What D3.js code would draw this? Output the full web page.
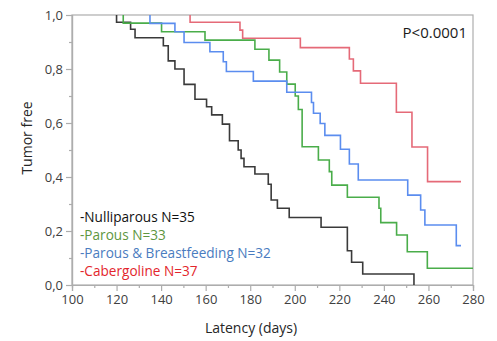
<!DOCTYPE html>
<html>
<head>
<meta charset="utf-8">
<script src="https://cdn.jsdelivr.net/npm/d3@7"></script>
<style>
  body { margin: 0; background: #fff; }
  text { font-family: "Open Sans", "Noto Sans", sans-serif; }
</style>
</head>
<body>
<div id="wrapper"></div>
<script>
// Kaplan-Meier steps: day of each drop and the level after it
const nulliDays = [120, 126.3, 128.3, 141, 143.2, 146.2, 150.3, 155.2, 160.4, 162.7, 167.5, 170.7, 174.6, 175.9, 177.2, 182.1, 188.1, 189.4, 192.2, 197.5, 211.8, 223.6, 225.5, 230.5, 253.5]
const nulliSurv = [0.973, 0.947, 0.916, 0.886, 0.830, 0.800, 0.743, 0.688, 0.660, 0.630, 0.596, 0.534, 0.500, 0.469, 0.438, 0.411, 0.373, 0.315, 0.284, 0.250, 0.214, 0.127, 0.084, 0.041, 0]
const nulliEnd = 253.5

const parousDays = [123, 140.2, 159.7, 182.1, 188.4, 193.2, 196.4, 200.2, 201.6, 203.3, 210.6, 215.5, 216.6, 223.6, 237.8, 238.6, 245.7, 250.5, 259.5]
const parousSurv = [0.970, 0.938, 0.907, 0.873, 0.833, 0.789, 0.744, 0.700, 0.650, 0.512, 0.463, 0.420, 0.370, 0.325, 0.284, 0.231, 0.185, 0.123, 0.062]
const parousEnd = 280

const breastDays = [135, 146.2, 150.3, 161.9, 167.9, 169.3, 181.4, 196.4, 207.5, 208.4, 211.4, 213.5, 220.5, 224.5, 228.5, 250.7, 256.5, 258.4, 272.5]
const breastSurv = [0.969, 0.938, 0.898, 0.864, 0.827, 0.791, 0.755, 0.714, 0.676, 0.636, 0.598, 0.554, 0.503, 0.448, 0.389, 0.333, 0.278, 0.222, 0.146]
const breastEnd = 274.6

const caberDays = [153, 175.4, 176.6, 202.5, 224.5, 226.3, 229.5, 245.6, 252.6, 259.6]
const caberSurv = [0.973, 0.944, 0.914, 0.879, 0.837, 0.793, 0.747, 0.640, 0.511, 0.383]
const caberEnd = 274.6

const groupLabels = ["-Nulliparous N=35", "-Parous N=33", "-Parous & Breastfeeding N=32", "-Cabergoline N=37"]
const xTicks = [100, 120, 140, 160, 180, 200, 220, 240, 260, 280]
const yTicks = [0, 0.2, 0.4, 0.6, 0.8, 1.0]

const groups = [
  { days: nulliDays, surv: nulliSurv, end: nulliEnd, line: "#3a3a3a", text: "#111111" },
  { days: parousDays, surv: parousSurv, end: parousEnd, line: "#4aad4a", text: "#5e9640" },
  { days: breastDays, surv: breastSurv, end: breastEnd, line: "#5b8def", text: "#4a7cc0" },
  { days: caberDays, surv: caberSurv, end: caberEnd, line: "#e56a78", text: "#e3262c" },
]

let dimensions = {
  width: 497,
  height: 341,
  margin: { top: 15, right: 24, bottom: 56, left: 72 },
}
dimensions.boundedWidth = dimensions.width - dimensions.margin.left - dimensions.margin.right
dimensions.boundedHeight = dimensions.height - dimensions.margin.top - dimensions.margin.bottom

const svg = d3.select("#wrapper")
  .append("svg")
    .attr("width", dimensions.width)
    .attr("height", dimensions.height)

const bounds = svg.append("g")
  .attr("transform", `translate(${dimensions.margin.left},${dimensions.margin.top})`)

const xScale = d3.scaleLinear()
  .domain([100, 280])
  .range([0, dimensions.boundedWidth])

const yScale = d3.scaleLinear()
  .domain([0, 1])
  .range([dimensions.boundedHeight, 0])

// frame
bounds.append("rect")
  .attr("x", 0)
  .attr("y", 0)
  .attr("width", dimensions.boundedWidth)
  .attr("height", dimensions.boundedHeight)
  .attr("fill", "none")
  .attr("stroke", "#adadad")
  .attr("stroke-width", 1.2)

// minor ticks first, then major axes on top
const xMinor = d3.axisBottom(xScale).tickValues(d3.range(110, 280, 20)).tickSize(3).tickFormat("")
const yMinor = d3.axisLeft(yScale).tickValues([0.1, 0.3, 0.5, 0.7, 0.9]).tickSize(3).tickFormat("")

bounds.append("g")
  .attr("transform", `translate(0,${dimensions.boundedHeight})`)
  .call(xMinor)
bounds.append("g").call(yMinor)

const xAxis = bounds.append("g")
  .attr("transform", `translate(0,${dimensions.boundedHeight})`)
  .call(d3.axisBottom(xScale).tickValues(xTicks).tickSize(6).tickPadding(4))

const yAxis = bounds.append("g")
  .call(d3.axisLeft(yScale).tickValues(yTicks).tickSize(6).tickPadding(3)
    .tickFormat(d => d3.format(".1f")(d).replace(".", ",")))

bounds.selectAll(".domain, .tick line")
  .attr("stroke", "#adadad")
  .attr("stroke-width", 1.2)
bounds.selectAll(".tick text")
  .attr("fill", "#404040")
  .style("font-size", "13px")
  .style("font-family", "'Open Sans', sans-serif")

// survival curves
const lineGenerator = d3.line()
  .x(d => xScale(d[0]))
  .y(d => yScale(d[1]))
  .curve(d3.curveStepAfter)

groups.forEach(g => {
  let pts = [[g.days[0], 1]]
  g.days.forEach((t, i) => pts.push([t, g.surv[i]]))
  pts.push([g.end, g.surv[g.surv.length - 1]])
  bounds.append("path")
    .attr("d", lineGenerator(pts))
    .attr("fill", "none")
    .attr("stroke", g.line)
    .attr("stroke-width", 1.6)
})

// legend text
groupLabels.forEach((label, i) => {
  svg.append("text")
    .attr("x", 80)
    .attr("y", 222 + i * 18)
    .attr("fill", groups[i].text)
    .style("font-size", "13.6px")
    .text(label)
})

svg.append("text")
  .attr("x", 467)
  .attr("y", 37.5)
  .attr("text-anchor", "end")
  .attr("fill", "#1a1a1a")
  .style("font-size", "15px")
  .text("P<0.0001")

svg.append("text")
  .attr("x", 251)
  .attr("y", 333)
  .attr("text-anchor", "middle")
  .attr("fill", "#262626")
  .style("font-size", "14px")
  .text("Latency (days)")

svg.append("text")
  .attr("transform", "translate(32,138) rotate(-90)")
  .attr("text-anchor", "middle")
  .attr("fill", "#262626")
  .style("font-size", "14px")
  .text("Tumor free")
</script>
</body>
</html>
